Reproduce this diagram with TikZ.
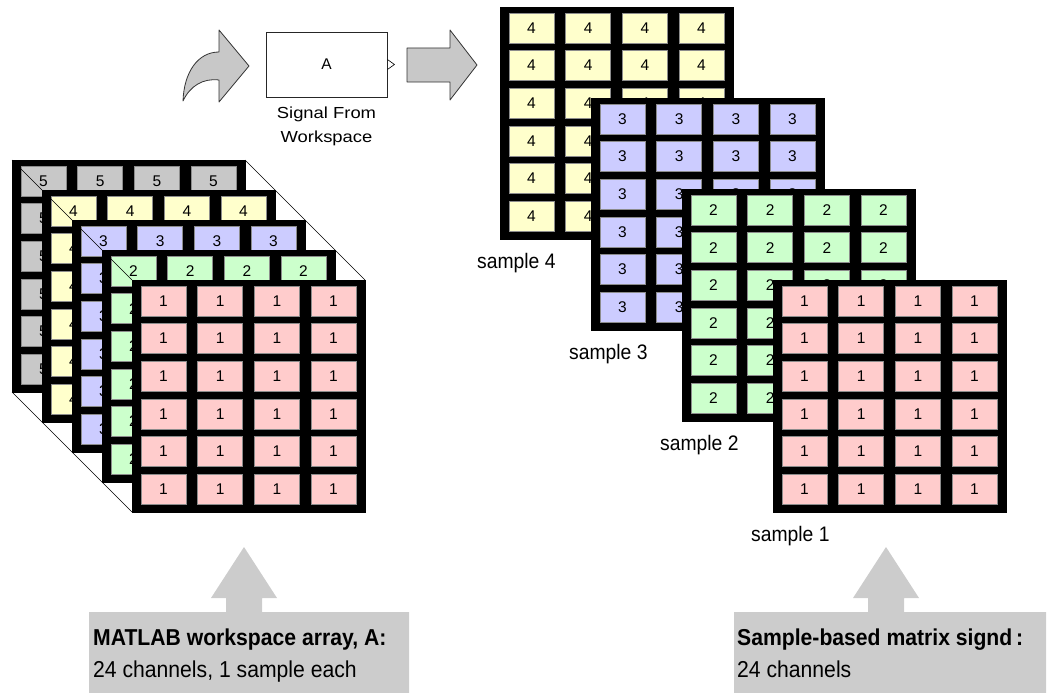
\documentclass[tikz,border=0pt]{standalone}
\usepackage{xcolor}
\usepackage{fontspec}
\usepackage{tikz}
\usetikzlibrary{positioning}

\newfontfamily\cellfont{Liberation Sans}
\newfontfamily\blockfont[FakeStretch=1.15]{Liberation Sans}
\newfontfamily\labelfont[FakeStretch=0.92]{Liberation Sans}

\definecolor{cellgray}{RGB}{200,200,200}
\definecolor{cellyellow}{RGB}{255,255,204}
\definecolor{cellblue}{RGB}{204,204,255}
\definecolor{cellgreen}{RGB}{204,255,204}
\definecolor{cellpink}{RGB}{255,204,204}
\definecolor{infogray}{RGB}{204,204,204}
\definecolor{arrowgray}{RGB}{200,200,200}

\begin{document}
\begin{tikzpicture}[x=1pt,y=1pt,yscale=-1,xscale=1,
  matframe/.style={fill=black,draw=black,anchor=north west,minimum width=233pt,minimum height=232pt,inner sep=0pt,outer sep=0pt},
  cell/.style={draw=black!45,line width=0.5pt,minimum width=45pt,minimum height=30pt,inner sep=0pt,font={\cellfont\fontsize{15.5pt}{17pt}\selectfont}},
  smplabel/.style={anchor=base west,inner sep=0pt,font={\labelfont\fontsize{21pt}{24pt}\selectfont}},
  infotext/.style={anchor=base west,inner sep=0pt,font={\labelfont\fontsize{23pt}{28pt}\selectfont}},
  bigarrow/.style={fill=arrowgray,draw=black!80,line width=0.8pt,line join=round}]
\useasboundingbox (0,0) rectangle (1049,693);
%Shape: Matrices (back to front)
\foreach \nm/\fx/\fy/\col/\dg in {L5/12/160/cellgray/5, L4/42/190/cellyellow/4, L3/72/220/cellblue/3, L2/102/250/cellgreen/2, L1/132/280/cellpink/1, S4/500/7/cellyellow/4, S3/591/98/cellblue/3, S2/682/189/cellgreen/2, S1/773/280/cellpink/1} {
  \node[matframe] (\nm) at (\fx,\fy) {};
  \foreach \r in {0,...,5}
    \foreach \c in {0,...,3}
      \node[cell,fill=\col] (\nm-\r-\c) at (\fx+31.5+56.67*\c,\fy+21+37.6*\r) {\dg};
}
%Straight Lines: stack edges
\draw[line width=0.6pt] (L5.north east) -- (L1.north east) ;
\draw[line width=0.6pt] (L5.south west) -- (L1.south west) ;
\draw[line width=0.6pt] (L5.north west) -- (L1.north west) ;
%Shape: Block
\node[draw=black!85,line width=0.9pt,minimum width=121pt,minimum height=65pt,inner sep=0pt,font={\cellfont\fontsize{15.5pt}{17pt}\selectfont}] (blk) at (326.5,64.5) {A};
\draw[line width=0.6pt] ([yshift=5pt]blk.east) -- ([xshift=7pt]blk.east) -- ([yshift=-5pt]blk.east) ;
% Text Node
\node[below=9pt of blk,inner sep=0pt,align=center,font={\blockfont\fontsize{16pt}{24pt}\selectfont}] (blklab) {Signal From\\Workspace};
%Shape: Curved Arrow
\draw[bigarrow] (183,101) .. controls (184,72) and (198,52) .. (219,52) -- (219,30) -- (249,66) -- (219,102) -- (219,80) .. controls (203,78) and (190,86) .. (183,101) -- cycle ;
%Shape: Right Arrow
\draw[bigarrow] (407,48) -- (450,48) -- (450,30) -- (477,65) -- (450,100) -- (450,82) -- (407,82) -- cycle ;
% Text Node
\node[smplabel] (lab4) at (477,268) {sample 4};
% Text Node
\node[smplabel] (lab3) at (569,359) {sample 3};
% Text Node
\node[smplabel] (lab2) at (660,450) {sample 2};
% Text Node
\node[smplabel] (lab1) at (751,541) {sample 1};
%Shape: Info Box with Arrow
\fill[infogray] (89,693) -- (89,612) -- (226,612) -- (226,598) -- (211,598) -- (244,547) -- (277,598) -- (262,598) -- (262,612) -- (409,612) -- (409,693) -- cycle ;
%Shape: Info Box with Arrow
\fill[infogray] (734,693) -- (734,612) -- (868,612) -- (868,598) -- (853,598) -- (886,547) -- (919,598) -- (904,598) -- (904,612) -- (1046,612) -- (1046,693) -- cycle ;
% Text Node
\node[infotext] (wshead) at (93,645) {\bfseries MATLAB workspace array, A:};
% Text Node
\node[infotext] (wsbody) at (93,677) {24 channels, 1 sample each};
% Text Node
\node[infotext] (sghead) at (737,645) {\bfseries Sample-based matrix signd\,:};
% Text Node
\node[infotext] (sgbody) at (737,677) {24 channels};
\end{tikzpicture}
\end{document}
